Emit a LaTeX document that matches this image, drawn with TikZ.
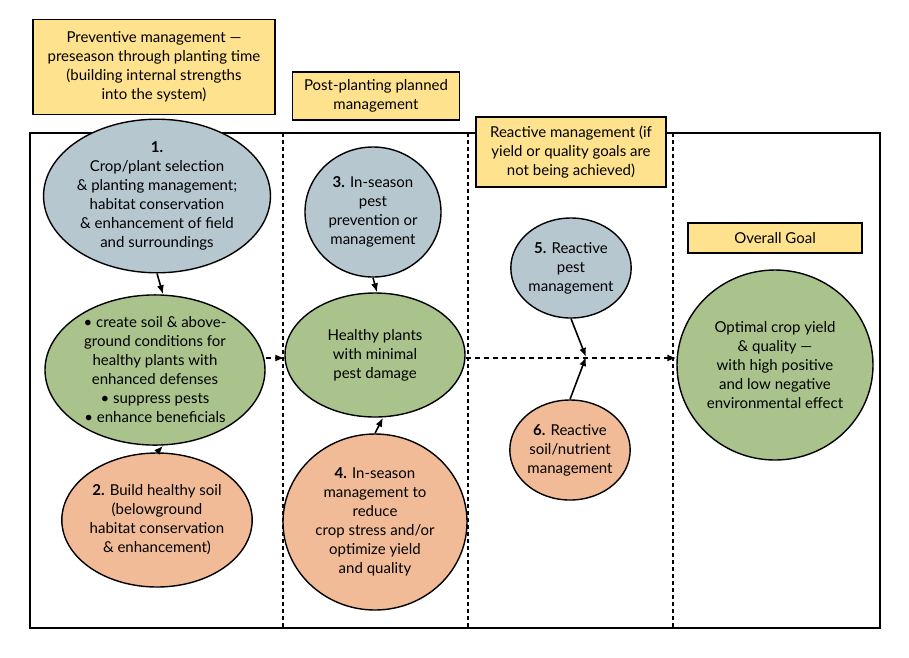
\documentclass[tikz,border=0pt]{standalone}
\usepackage{fontspec}
\setmainfont{Lato}
\usetikzlibrary{arrows.meta, shapes.geometric}
\definecolor{pblue}{HTML}{B7C7D0}
\definecolor{pgreen}{HTML}{AAC38C}
\definecolor{porange}{HTML}{F2BB98}
\definecolor{pyellow}{HTML}{FFE28E}
\tikzset{
  blob/.style={ellipse, draw=black, line width=1.4pt, align=center, inner sep=0pt},
  tag/.style={draw=black, line width=1.4pt, fill=pyellow, align=center},
  go/.style={line width=1.6pt, -{Latex[length=9pt, width=7pt]}},
  dgo/.style={line width=1.4pt, dash pattern=on 5pt off 4pt, -{Latex[length=9pt, width=7pt]}}
}
\begin{document}
\begin{tikzpicture}[x=1pt, y=-1pt, font=\fontsize{15}{19}\selectfont]
					\useasboundingbox (0,0) rectangle (909,657);
					\draw [line width=1.4pt] (30,133) rectangle (880,628);
					\foreach \xv in {283,468,673}
						\draw [line width=1.2pt, dash pattern=on 4pt off 3pt] (\xv,133) -- (\xv,628);
					% headers
					\node [tag, minimum width=242pt, minimum height=95pt] (tprev) at (154,67) {Preventive management —\\preseason through planting time\\(building internal strengths\\into the system)};
					\node [tag, minimum width=167pt, minimum height=48pt] (tpost) at (376,96) {Post-planting planned\\management};
					\node [tag, minimum width=190pt, minimum height=70pt] (treac) at (571,152) {Reactive management (if\\yield or quality goals are\\not being achieved)};
					\node [tag, minimum width=174pt, minimum height=30pt] (tgoal) at (775,238) {Overall Goal};
					% ellipses
					\node [blob, fill=pblue, minimum width=190pt, minimum height=144pt] (crop) at (157,196) {\textbf{1.}\\Crop/plant selection\\\& planting management;\\habitat conservation\\\& enhancement of field\\and surroundings};
					\node [blob, fill=pgreen, minimum width=220pt, minimum height=130pt] (cond) at (155,370) {• create soil \& above-\\ground conditions for\\healthy plants with\\enhanced defenses\\• suppress pests\\• enhance beneficials};
					\node [blob, fill=porange, minimum width=184pt, minimum height=134pt] (soil) at (157,520) {\textbf{2.} Build healthy soil\\(belowground\\habitat conservation\\\& enhancement)};
					\node [blob, fill=pblue, minimum width=136pt, minimum height=130pt] (prev) at (373,212) {\textbf{3.} In-season\\pest\\prevention or\\management};
					\node [blob, fill=pgreen, minimum width=180pt, minimum height=124pt] (healthy) at (375,355) {Healthy plants\\with minimal\\pest damage};
					\node [blob, fill=porange, minimum width=184pt, minimum height=176pt] (stress) at (375,522) {\textbf{4.} In-season\\management to\\reduce\\crop stress and/or\\optimize yield\\and quality};
					\node [blob, fill=pblue, minimum width=120pt, minimum height=100pt] (rpest) at (571,268) {\textbf{5.} Reactive\\pest\\management};
					\node [blob, fill=porange, minimum width=120pt, minimum height=100pt] (rsoil) at (570,450) {\textbf{6.} Reactive\\soil/nutrient\\management};
					\node [blob, fill=pgreen, minimum width=196pt, minimum height=190pt] (goal) at (775,365) {Optimal crop yield\\\& quality —\\with high positive\\and low negative\\environmental effect};
					% connectors
					\coordinate (meet) at (586,357);
					\draw [go] (crop.south) -- (cond.north -| 163,0);
					\draw [go] (soil.north) -- (cond.south -| 163,0);
					\draw [go] (prev.south) -- (healthy.north -| 377,0);
					\draw [go] (stress.north) -- (healthy.south -| 383,0);
					\draw [dgo] (cond.east |- 0,358) -- (healthy.west |- 0,358);
					\draw [dgo] (healthy.east |- 0,358) -- (goal.west |- 0,358);
					\draw [go] (rpest.south) -- (meet);
					\draw [go] (rsoil.north) -- (meet);
				\end{tikzpicture}
\end{document}
